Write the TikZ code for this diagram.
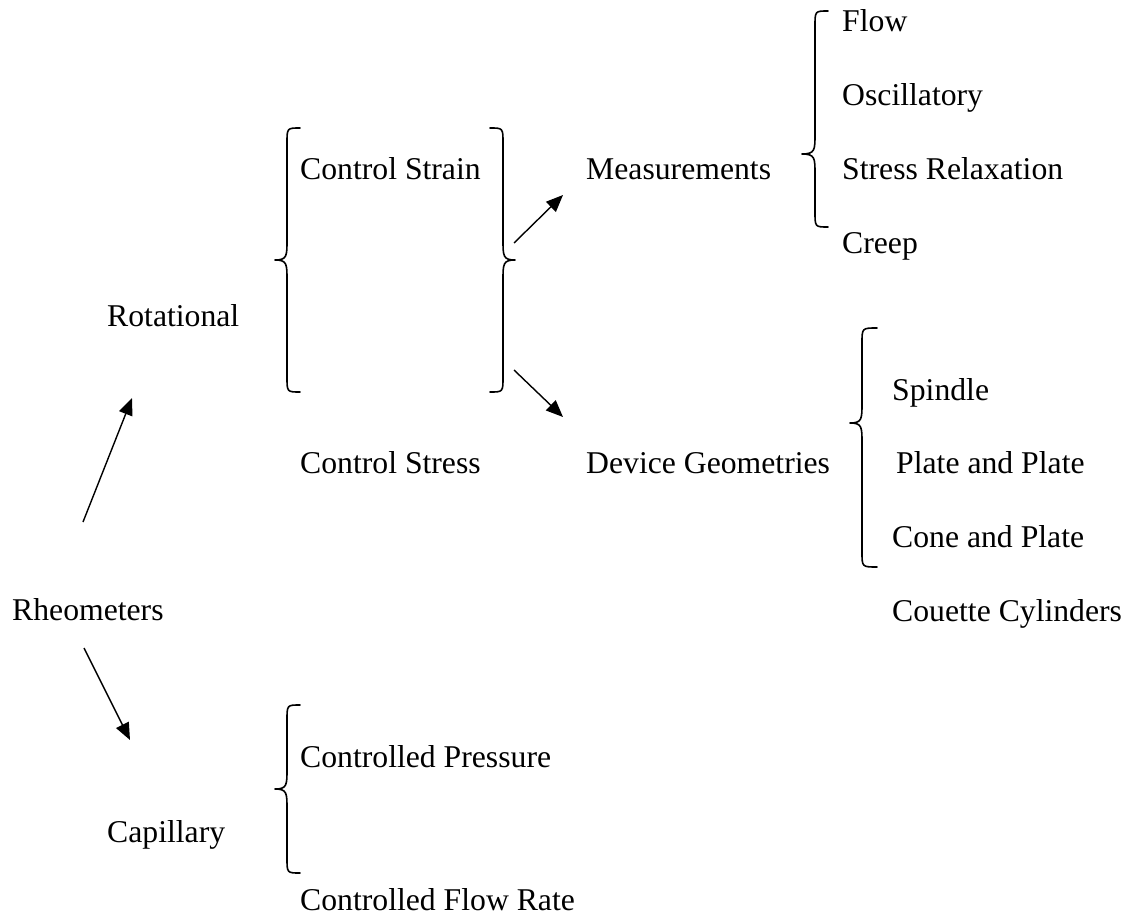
\documentclass[tikz,border=0pt]{standalone}
\usepackage{fontspec}
\setmainfont{Liberation Serif}
\usetikzlibrary{arrows.meta}
\newcommand{\mybrace}[6]{%
  \draw[brc] (#1,#4) .. controls (#2,#4) .. (#2,#4+15) -- (#2,#5-20)
     .. controls (#2,#5-4) and (#2,#5) .. (#3,#5) .. controls (#2,#5) and (#2,#5+4) .. (#2,#5+20)
     -- (#2,#6-15) .. controls (#2,#6) .. (#1,#6);}
\begin{document}
\begin{tikzpicture}[x=1pt,y=-1pt,
  lbl/.style={anchor=base west, inner sep=0pt, font=\fontsize{31.7}{38}\selectfont},
  arr/.style={line width=1.4pt, -{Triangle[length=17pt,width=14pt]}},
  brc/.style={line width=1.6pt, line cap=round, line join=round}]
\useasboundingbox (0,0) rectangle (1131,920);
% text nodes
\node[lbl] (rheo) at (12,620) {Rheometers};
\node[lbl] (rot) at (107,326) {Rotational};
\node[lbl] (cap) at (107,842) {Capillary};
\node[lbl] (cstrain) at (300,179) {Control Strain};
\node[lbl] (cstress) at (300,473) {Control Stress};
\node[lbl] (cpres) at (300,767) {Controlled Pressure};
\node[lbl] (cflow) at (300,910) {Controlled Flow Rate};
\node[lbl] (meas) at (586,179) {Measurements};
\node[lbl] (devg) at (586,473) {Device Geometries};
\node[lbl] (flow) at (842,32) {Flow};
\node[lbl] (osc) at (842,106) {Oscillatory};
\node[lbl] (srel) at (842,179) {Stress Relaxation};
\node[lbl] (creep) at (842,253) {Creep};
\node[lbl] (spin) at (892,400) {Spindle};
\node[lbl] (pp) at (896,473) {Plate and Plate};
\node[lbl] (cp) at (892,547) {Cone and Plate};
\node[lbl] (cc) at (892,621) {Couette Cylinders};
% arrow end points
\coordinate (r1s) at (83,522);  \coordinate (r1e) at (132,398);
\coordinate (r2s) at (84,648);  \coordinate (r2e) at (130,740);
\coordinate (m1s) at (514,243); \coordinate (m1e) at (563,195);
\coordinate (d1s) at (514,370); \coordinate (d1e) at (563,417);
\draw[arr] (r1s) -- (r1e);
\draw[arr] (r2s) -- (r2e);
\draw[arr] (m1s) -- (m1e);
\draw[arr] (d1s) -- (d1e);
% braces: end x, vertical x, tip x, top y, tip y, bottom y
\mybrace{300}{287}{275}{128}{260}{392}
\mybrace{490}{503}{515}{128}{260}{392}
\mybrace{300}{287}{275}{705}{789}{873}
\mybrace{828}{815}{802}{11}{154}{227}
\mybrace{877}{862}{850}{328}{423}{567}
\end{tikzpicture}
\end{document}
